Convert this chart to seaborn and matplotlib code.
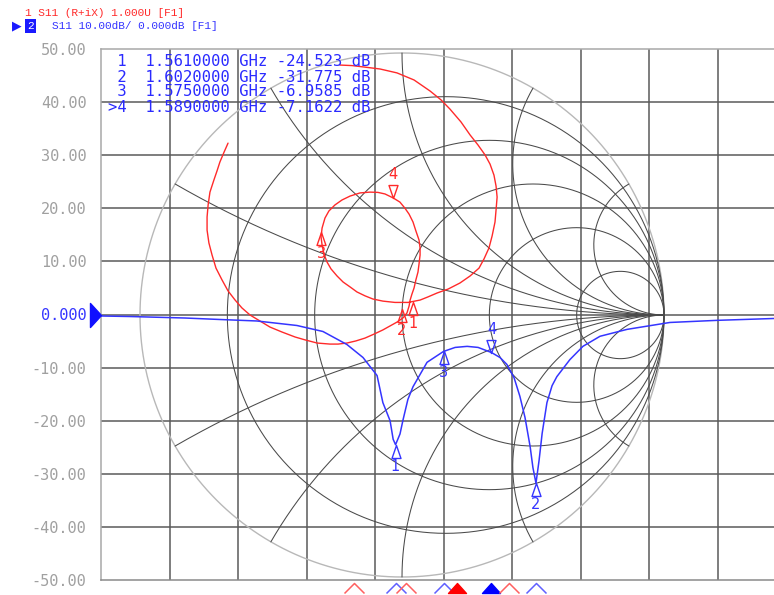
import numpy as np
import matplotlib.pyplot as plt
import seaborn as sns
from matplotlib.path import Path
from matplotlib.transforms import blended_transform_factory

# trace 2: S11 log magnitude (blue)
freq_ghz = [1.4750, 1.4835, 1.4995, 1.5097, 1.5205, 1.5322, 1.5398, 1.5468, 1.5515, 1.5556,
            1.5573, 1.5594, 1.5603, 1.5610, 1.5623, 1.5632, 1.5646, 1.5661, 1.5702, 1.5750,
            1.5784, 1.5819, 1.5851, 1.5890, 1.5915, 1.5935, 1.5956, 1.5973, 1.5988, 1.6003,
            1.6011, 1.6020, 1.6029, 1.6038, 1.6052, 1.6067, 1.6081, 1.6119, 1.6157, 1.6207,
            1.6286, 1.6411, 1.6549, 1.6715, 1.6750]
s11_db = [-0.28, -0.38, -0.66, -0.94, -1.22, -2.07, -3.20, -5.65, -8.10, -11.49,
          -16.6, -20.0, -23.5, -24.52, -22.5, -19.8, -16.0, -13.6, -9.0, -6.96,
          -6.2, -6.0, -6.2, -7.16, -8.1, -9.4, -11.9, -15.4, -19.4, -24.9,
          -28.8, -31.78, -27.5, -22.4, -16.6, -13.4, -11.7, -8.5, -6.0, -4.1,
          -2.8, -1.5, -1.1, -0.75, -0.75]

# trace 2 markers
mk_names = ["1", "2", "3", "4"]
mk_freq = [1.561, 1.602, 1.575, 1.589]
mk_db = [-24.523, -31.775, -6.9585, -7.1622]
mk_below = [True, True, True, False]

# trace 1: S11 on the Smith chart (reflection coefficient, red)
red_re = [-0.237, -0.191, -0.149, -0.084, -0.019, 0.046, 0.107, 0.149, 0.183, 0.225,
          0.260, 0.290, 0.317, 0.336, 0.351, 0.359, 0.363, 0.359, 0.355, 0.344,
          0.332, 0.313, 0.294, 0.260, 0.221, 0.176, 0.134, 0.099, 0.069, 0.023,
          -0.027, -0.073, -0.111, -0.141, -0.172, -0.198, -0.225, -0.248, -0.271, -0.286,
          -0.298, -0.305, -0.309, -0.305, -0.294, -0.279, -0.256, -0.229, -0.198, -0.160,
          -0.122, -0.092, -0.065, -0.034, -0.008, 0.011, 0.027, 0.042, 0.053, 0.065,
          0.069, 0.069, 0.065, 0.061, 0.053, 0.046, 0.038, 0.031, 0.027, 0.019,
          0.004, -0.019, -0.046, -0.073, -0.107, -0.141, -0.176, -0.210, -0.244, -0.275,
          -0.324, -0.370, -0.408, -0.458, -0.504, -0.542, -0.580, -0.611, -0.637, -0.664,
          -0.687, -0.710, -0.725, -0.737, -0.744, -0.744, -0.740, -0.733, -0.718, -0.706,
          -0.695, -0.679, -0.664]
red_im = [0.954, 0.952, 0.947, 0.939, 0.924, 0.897, 0.855, 0.821, 0.786, 0.737,
          0.687, 0.649, 0.611, 0.576, 0.534, 0.492, 0.450, 0.401, 0.355, 0.302,
          0.256, 0.214, 0.179, 0.149, 0.122, 0.099, 0.084, 0.069, 0.057, 0.048,
          0.048, 0.053, 0.061, 0.073, 0.088, 0.107, 0.126, 0.149, 0.176, 0.202,
          0.233, 0.267, 0.298, 0.332, 0.370, 0.397, 0.420, 0.439, 0.454, 0.466,
          0.469, 0.468, 0.462, 0.447, 0.431, 0.408, 0.385, 0.355, 0.321, 0.286,
          0.256, 0.229, 0.195, 0.164, 0.134, 0.103, 0.080, 0.057, 0.034, 0.008,
          -0.011, -0.027, -0.042, -0.057, -0.073, -0.088, -0.099, -0.107, -0.111, -0.111,
          -0.107, -0.095, -0.084, -0.065, -0.046, -0.023, 0.000, 0.027, 0.057, 0.092,
          0.134, 0.179, 0.229, 0.275, 0.324, 0.374, 0.420, 0.469, 0.515, 0.550,
          0.584, 0.622, 0.656]
red_mk_re = [0.042, 0.000, -0.309, -0.034]
red_mk_im = [0.050, 0.023, 0.317, 0.447]
red_mk_below = [True, True, True, False]
red_mk_freq = [1.549, 1.594, 1.564, 1.579]

smith_r = [0.2, 0.5, 1.0, 2.0, 5.0]
smith_x = [0.268, 0.577, 1.0, 1.732, 3.732]

f_start, f_stop = 1.475, 1.675
y_ticks = [50, 40, 30, 20, 10, 0, -10, -20, -30, -40, -50]
y_labels = ["50.00", "40.00", "30.00", "20.00", "10.00", "0.000",
            "-10.00", "-20.00", "-30.00", "-40.00", "-50.00"]

RED = "#ff2a2a"
BLUE = "#3535ff"

sns.set_theme(style="white")
plt.rcParams["font.family"] = ["DejaVu Sans"]

W, H = 774, 595
fig = plt.figure(figsize=(W / 100, H / 100), dpi=100)


def px_rect(l, t, r, b):
    return [l / W, 1 - b / H, (r - l) / W, (b - t) / H]


ax_grid = fig.add_axes(px_rect(101, 49, 786, 580))
ax_smith = fig.add_axes(px_rect(140, 53, 664, 577))
ax_tr = fig.add_axes(px_rect(101, 49, 786, 580))
ax_grid.set_zorder(0)
ax_smith.set_zorder(1)
ax_tr.set_zorder(2)
for a in (ax_smith, ax_tr):
    a.patch.set_alpha(0)

# rectangular graticule
ax_grid.set_xlim(f_start, f_stop)
ax_grid.set_ylim(-50, 50)
for f in np.linspace(f_start, f_stop, 11)[1:-1]:
    ax_grid.axvline(f, color="#5a5a5a", lw=1.1)
for y in y_ticks[1:-1]:
    ax_grid.axhline(y, color="#5a5a5a", lw=1.1)
ax_grid.set_xticks([])
ax_grid.set_yticks(y_ticks)
ax_grid.set_yticklabels(y_labels)
ax_grid.tick_params(axis="y", length=0, pad=10.5, labelsize=11, labelcolor="#a0a0a0")
for lab in ax_grid.get_yticklabels():
    lab.set_fontfamily("DejaVu Sans Mono")
ax_grid.get_yticklabels()[5].set_color(BLUE)
for s in ax_grid.spines.values():
    s.set_color("#a8a8a8")
    s.set_linewidth(1.1)
ax_grid.spines["bottom"].set_color("#8a8a8a")

# smith chart grid
ax_smith.set_xlim(-1, 1)
ax_smith.set_ylim(-1, 1)
ax_smith.axis("off")
t = np.linspace(0, 2 * np.pi, 721)
ax_smith.plot(np.cos(t), np.sin(t), color="#b8b8b8", lw=1.0, clip_on=False)
for r in smith_r:
    c, rad = r / (1 + r), 1 / (1 + r)
    ax_smith.plot(c + rad * np.cos(t), rad * np.sin(t), color="#4a4a4a", lw=0.75, clip_on=False)
r_par = np.concatenate([np.linspace(0, 1, 200), np.logspace(0, 4, 300)])
for xv in smith_x:
    for sgn in (1, -1):
        z = r_par + 1j * sgn * xv
        g = (z - 1) / (z + 1)
        ax_smith.plot(g.real, g.imag, color="#4a4a4a", lw=0.75, clip_on=False)

sns.lineplot(x=red_re, y=red_im, sort=False, estimator=None, ax=ax_smith,
             color=RED, lw=1.0)
ax_smith.set_xlim(-1, 1)
ax_smith.set_ylim(-1, 1)

# log-mag trace
sns.lineplot(x=freq_ghz, y=s11_db, ax=ax_tr, color=BLUE, lw=1.1)
ax_tr.set_xlim(f_start, f_stop)
ax_tr.set_ylim(-50, 50)
ax_tr.axis("off")

tri_up = Path([(0, 0), (-4.5, -13), (4.5, -13), (0, 0)],
              [Path.MOVETO, Path.LINETO, Path.LINETO, Path.CLOSEPOLY])
tri_dn = Path([(0, 0), (-4.5, 13), (4.5, 13), (0, 0)],
              [Path.MOVETO, Path.LINETO, Path.LINETO, Path.CLOSEPOLY])


def draw_marker(ax, x, y, name, below, color):
    ax.plot([x], [y], marker=tri_up if below else tri_dn, ms=18.7, mfc="none",
            mec=color, mew=1.0, ls="none", clip_on=False, zorder=5)
    ax.annotate(name, (x, y), xytext=(0, -15.5 if below else 16.5),
                textcoords="offset points", ha="center", va="center",
                color=color, fontsize=10.5, zorder=6)


for n, x, y, b in zip(mk_names, mk_freq, mk_db, mk_below):
    draw_marker(ax_tr, x, y, n, b, BLUE)
for n, x, y, b in zip(mk_names, red_mk_re, red_mk_im, red_mk_below):
    draw_marker(ax_smith, x, y, n, b, RED)

# reference level arrow
ref_tri = Path([(0, 0), (-11, 12), (-11, -12), (0, 0)],
               [Path.MOVETO, Path.LINETO, Path.LINETO, Path.CLOSEPOLY])
trans_ref = blended_transform_factory(ax_tr.transAxes, ax_tr.transData)
ax_tr.plot([0], [0], marker=ref_tri, ms=17.3, color="#1010ff", ls="none",
           transform=trans_ref, clip_on=False)

# stimulus marker indicators under the graticule
chev = Path([(-10, -10), (0, 0), (10, -10)], [Path.MOVETO, Path.LINETO, Path.LINETO])
solid = Path([(0, 0), (-9, -10), (9, -10), (0, 0)],
             [Path.MOVETO, Path.LINETO, Path.LINETO, Path.CLOSEPOLY])
trans_stim = blended_transform_factory(ax_tr.transData, ax_tr.transAxes)
y_stim = -3 / 531
for names, freqs, col, lite in ((mk_names, mk_freq, "#0000ff", "#6060ff"),
                                (mk_names, red_mk_freq, "#ff0000", "#ff6060")):
    for n, f in zip(names, freqs):
        if n == "4":
            ax_tr.plot([f], [y_stim], marker=solid, ms=14.4, color=col, ls="none",
                       transform=trans_stim, clip_on=False)
        else:
            ax_tr.plot([f], [y_stim], marker=chev, ms=14.4, mfc="none", mec=lite,
                       mew=1.1, ls="none", transform=trans_stim, clip_on=False)

# marker readout table
table = [" 1  1.5610000 GHz -24.523 dB",
         " 2  1.6020000 GHz -31.775 dB",
         " 3  1.5750000 GHz -6.9585 dB",
         ">4  1.5890000 GHz -7.1622 dB"]
for i, line in enumerate(table):
    fig.text(108 / W, 1 - (62 + 15 * i) / H, line, color="#2a2aff", fontsize=11.2,
             family="DejaVu Sans Mono", ha="left", va="center", zorder=10)

# channel / trace header
fig.text(25 / W, 1 - 13 / H, "1 S11 (R+iX) 1.000U [F1]", color=RED, fontsize=8,
         family=["Liberation Mono", "DejaVu Sans Mono"], ha="left", va="center")
fig.text(52 / W, 1 - 26 / H, "S11 10.00dB/ 0.000dB [F1]", color=BLUE, fontsize=8,
         family=["Liberation Mono", "DejaVu Sans Mono"], ha="left", va="center")
fig.text(27 / W, 1 - 26 / H, "2", color="white", fontsize=8,
         family=["Liberation Mono", "DejaVu Sans Mono"], ha="left", va="center",
         bbox=dict(boxstyle="square,pad=0.2", fc="#1a1aff", ec="none"))
fig.text(12 / W, 1 - 26 / H, "\u25B6", color="#1a1aff", fontsize=9, ha="left", va="center")

fig.savefig("out.png", dpi=100, facecolor="white")
